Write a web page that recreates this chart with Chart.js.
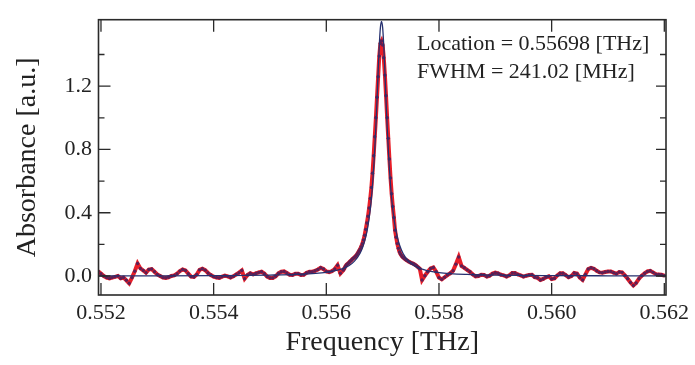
<!DOCTYPE html>
<html><head><meta charset="utf-8">
<script src="https://cdn.jsdelivr.net/npm/chart.js@4.4.1/dist/chart.umd.min.js"></script>
<style>html,body{margin:0;padding:0;background:#fff}#wrap{width:695px;height:365px}</style>
</head><body><div id="wrap"><canvas id="c" width="695" height="365"></canvas></div>
<script>
// ---- measured spectrum (THz, a.u.) ----
const freqLow = [0.55195,0.55200,0.55205,0.55210,0.55215,0.55220,0.55225,0.55230,0.55235,0.55240,
0.55245,0.55250,0.55255,0.55260,0.55265,0.55270,0.55275,0.55280,0.55285,0.55290,
0.55295,0.55300,0.55305,0.55310,0.55315,0.55320,0.55325,0.55330,0.55335,0.55340,
0.55345,0.55350,0.55355,0.55360,0.55365,0.55370,0.55375,0.55380,0.55385,0.55390,
0.55395,0.55400,0.55405,0.55410,0.55415,0.55420,0.55425,0.55430,0.55435,0.55440,
0.55445,0.55450,0.55455,0.55460,0.55465,0.55470,0.55475,0.55480,0.55485,0.55490,
0.55495,0.55500,0.55505,0.55510,0.55515,0.55520,0.55525,0.55530,0.55535,0.55540,
0.55545,0.55550,0.55555,0.55560,0.55565,0.55570,0.55575,0.55580,0.55585,0.55590,
0.55595,0.55600,0.55605,0.55610,0.55615,0.55620,0.55625,0.55630];
const absLow = [0.030,0.015,0.000,-0.010,-0.015,-0.010,-0.005,0.000,-0.015,-0.010,
-0.027,-0.046,-0.010,0.030,0.079,0.048,0.035,0.021,0.041,0.044,
0.027,0.010,0.000,-0.010,-0.012,-0.008,0.000,0.004,0.015,0.031,
0.041,0.035,0.015,-0.004,-0.006,0.010,0.039,0.046,0.037,0.019,
0.006,-0.004,-0.010,-0.012,-0.004,0.002,-0.002,-0.010,-0.002,0.010,
0.021,0.035,-0.017,0.006,0.017,0.010,0.017,0.023,0.027,0.015,
-0.004,-0.012,-0.012,-0.002,0.017,0.027,0.029,0.019,0.008,0.006,
0.015,0.015,0.006,0.008,0.021,0.027,0.027,0.033,0.041,0.052,
0.044,0.029,0.025,0.031,0.044,0.068,0.017,0.037];
const freqPeak = [0.55632,0.55634,0.55636,0.55638,0.55640,0.55642,0.55644,0.55646,0.55648,0.55650,
0.55652,0.55654,0.55656,0.55658,0.55660,0.55662,0.55664,0.55666,0.55668,0.55670,
0.55672,0.55674,0.55676,0.55678,0.55680,0.55682,0.55684,0.55686,0.55688,0.55690,
0.55692,0.55694,0.55696,0.55698,0.55700,0.55702,0.55704,0.55706,0.55708,0.55710,
0.55712,0.55714,0.55716,0.55718,0.55720,0.55722,0.55724,0.55726,0.55728,0.55730,
0.55732,0.55734,0.55736,0.55738,0.55740,0.55742,0.55744,0.55746,0.55748,0.55750,
0.55752,0.55754,0.55756,0.55758,0.55760,0.55762,0.55764,0.55766];
const absPeak = [0.048,0.062,0.072,0.078,0.084,0.092,0.098,0.106,0.112,0.118,
0.126,0.134,0.146,0.158,0.170,0.186,0.205,0.228,0.258,0.295,
0.335,0.378,0.430,0.490,0.560,0.650,0.760,0.880,1.000,1.130,
1.260,1.390,1.470,1.485,1.460,1.380,1.270,1.140,1.000,0.870,
0.740,0.620,0.520,0.440,0.370,0.290,0.245,0.205,0.175,0.152,
0.137,0.126,0.118,0.112,0.106,0.101,0.097,0.092,0.088,0.084,
0.081,0.078,0.074,0.070,0.065,0.058,0.052,0.046];
const freqHigh = [0.55770,0.55775,0.55780,0.55785,0.55790,0.55795,0.55800,0.55805,0.55810,0.55815,
0.55820,0.55825,0.55830,0.55835,0.55840,0.55845,0.55850,0.55855,0.55860,0.55865,
0.55870,0.55875,0.55880,0.55885,0.55890,0.55895,0.55900,0.55905,0.55910,0.55915,
0.55920,0.55925,0.55930,0.55935,0.55940,0.55945,0.55950,0.55955,0.55960,0.55965,
0.55970,0.55975,0.55980,0.55985,0.55990,0.55995,0.56000,0.56005,0.56010,0.56015,
0.56020,0.56025,0.56030,0.56035,0.56040,0.56045,0.56050,0.56055,0.56060,0.56065,
0.56070,0.56075,0.56080,0.56085,0.56090,0.56095,0.56100,0.56105,0.56110,0.56115,
0.56120,0.56125,0.56130,0.56135,0.56140,0.56145,0.56150,0.56155,0.56160,0.56165,
0.56170,0.56175,0.56180,0.56185,0.56190,0.56195,0.56200];
const absHigh = [-0.025,0.002,0.027,0.048,0.054,0.027,-0.010,-0.021,-0.008,0.006,
0.017,0.033,0.075,0.120,0.064,0.052,0.039,0.027,0.010,-0.002,
0.000,0.008,0.006,-0.004,0.002,0.015,0.021,0.017,0.008,0.004,
-0.004,0.004,0.019,0.019,0.010,0.004,-0.004,0.002,0.006,0.008,
-0.008,-0.012,-0.025,-0.019,-0.008,-0.002,-0.019,-0.015,0.004,0.017,
0.017,0.006,-0.008,0.000,0.019,0.015,-0.010,-0.025,0.010,0.044,
0.052,0.046,0.033,0.023,0.021,0.025,0.029,0.029,0.021,0.015,
0.025,0.023,0.004,-0.017,-0.041,-0.060,-0.044,-0.017,0.002,0.017,
0.029,0.033,0.023,0.012,0.010,0.008,0.002];

// ---- fitted curve ----
const fitFreq = [0.55195,0.5530,0.5540,0.5550,0.5555,0.5560,0.5562,0.5564,0.5565,0.5566,0.55665,0.5567,
0.55673,0.55676,0.55679,0.55682,0.55685,0.55688,0.5569,0.55692,0.55694,0.55696,0.55698,
0.5570,0.55702,0.55704,0.55706,0.55708,0.55711,0.55714,0.55717,0.5572,0.55723,0.55726,
0.5573,0.55736,0.55746,0.55756,0.5578,0.5580,0.5585,0.5590,0.5600,0.5610,0.5620];
const fitAbs = [0.001,0.0014,0.0026,0.0058,0.0104,0.0235,0.0368,0.065,0.094,0.144,0.186,0.247,
0.298,0.365,0.453,0.572,0.735,0.945,1.110,1.290,1.455,1.570,1.610,
1.570,1.455,1.290,1.110,0.945,0.735,0.572,0.453,0.365,0.298,0.247,
0.196,0.144,0.094,0.065,0.0335,0.0218,0.0099,0.0056,0.0025,0.0014,0.0009];

// ---- axes and texts ----
const xTickVals = [0.552,0.554,0.556,0.558,0.560,0.562];
const xTickLabels = ['0.552','0.554','0.556','0.558','0.560','0.562'];
const yTickVals = [0.0,0.4,0.8,1.2];
const yTickLabels = ['0.0','0.4','0.8','1.2'];
const yMinorVals = [0.2,0.6,1.0,1.4];
const xTitle = 'Frequency [THz]';
const yTitle = 'Absorbance [a.u.]';
const annotationLines = ['Location = 0.55698 [THz]','FWHM = 241.02 [MHz]'];

const SERIF = '"Liberation Serif","Times New Roman",serif';
const freq = freqLow.concat(freqPeak, freqHigh);
const absorbance = absLow.concat(absPeak, absHigh);

const framePlugin = {
  id: 'frame',
  afterDraw(chart) {
    const {ctx, chartArea: a, scales: {x, y}} = chart;
    ctx.save();
    ctx.strokeStyle = '#2a2a2a';
    ctx.lineWidth = 1.6;
    ctx.strokeRect(a.left, a.top, a.right - a.left, a.bottom - a.top);
    ctx.lineWidth = 1.3;
    ctx.beginPath();
    xTickVals.forEach(v => {
      const p = x.getPixelForValue(v);
      ctx.moveTo(p, a.bottom); ctx.lineTo(p, a.bottom - 12);
      ctx.moveTo(p, a.top); ctx.lineTo(p, a.top + 12);
    });
    yTickVals.forEach(v => {
      const p = y.getPixelForValue(v);
      ctx.moveTo(a.left, p); ctx.lineTo(a.left + 12, p);
      ctx.moveTo(a.right, p); ctx.lineTo(a.right - 10, p);
    });
    yMinorVals.forEach(v => {
      const p = y.getPixelForValue(v);
      ctx.moveTo(a.left, p); ctx.lineTo(a.left + 6, p);
      ctx.moveTo(a.right, p); ctx.lineTo(a.right - 6, p);
    });
    ctx.stroke();
    ctx.font = '22px ' + SERIF;
    ctx.fillStyle = '#222';
    ctx.textAlign = 'left';
    ctx.textBaseline = 'middle';
    annotationLines.forEach((t, i) => ctx.fillText(t, 417, 44 + i * 28));
    ctx.restore();
  }
};

new Chart(document.getElementById('c').getContext('2d'), {
  type: 'scatter',
  data: {
    datasets: [
      {
        label: 'fit',
        data: fitFreq.map((f, i) => ({x: f, y: fitAbs[i]})),
        showLine: true,
        borderColor: '#26306f',
        borderWidth: 1.3,
        pointRadius: 0,
        cubicInterpolationMode: 'monotone',
        order: 0
      },
      {
        label: 'data',
        data: freq.map((f, i) => ({x: f, y: absorbance[i]})),
        showLine: true,
        borderColor: '#e81e28',
        borderWidth: 4,
        pointRadius: 1.7,
        pointBackgroundColor: '#5e1f55',
        pointBorderWidth: 0,
        order: 1
      }
    ]
  },
  options: {
    responsive: false,
    animation: false,
    devicePixelRatio: 1,
    layout: {padding: {left: 0, right: 29, top: 16, bottom: 0}},
    plugins: {legend: {display: false}, tooltip: {enabled: false}},
    scales: {
      x: {
        type: 'linear', min: 0.551956, max: 0.56203,
        grid: {display: false, drawTicks: false},
        border: {display: false},
        afterBuildTicks: s => { s.ticks = xTickVals.map(v => ({value: v})); },
        ticks: {padding: 5, color: '#222', font: {family: SERIF, size: 22}, maxRotation: 0, autoSkip: false,
                callback: (v, i) => xTickLabels[i]},
        title: {display: true, text: xTitle, color: '#222', font: {family: SERIF, size: 28}, padding: {top: 0, bottom: 6}},
        afterFit: s => { s.height = 70; }
      },
      y: {
        type: 'linear', min: -0.12, max: 1.62,
        grid: {display: false, drawTicks: false},
        border: {display: false},
        afterBuildTicks: s => { s.ticks = yTickVals.map(v => ({value: v})); },
        ticks: {padding: 6.5, color: '#222', font: {family: SERIF, size: 22}, autoSkip: false,
                callback: (v, i) => yTickLabels[i]},
        title: {display: true, text: yTitle, color: '#222', font: {family: SERIF, size: 28}, padding: {top: 11, bottom: 0}},
        afterFit: s => { s.width = 98.5; }
      }
    }
  },
  plugins: [framePlugin]
});
</script>
</body></html>
